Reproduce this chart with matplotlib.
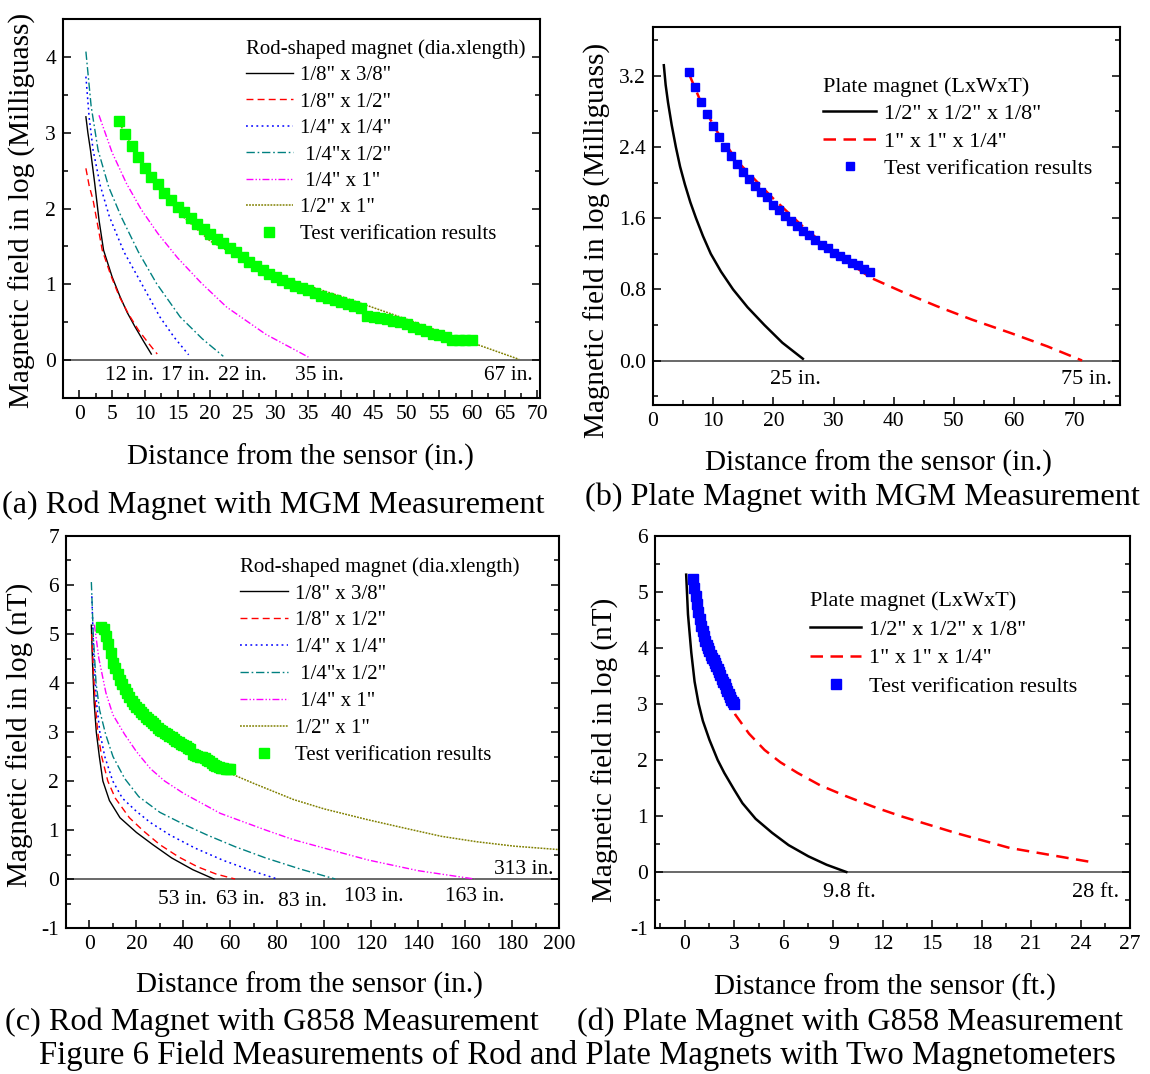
import matplotlib
matplotlib.use('Agg')
import matplotlib.pyplot as plt
from matplotlib.ticker import MultipleLocator, FormatStrFormatter

plt.rcParams['font.family'] = ['Liberation Serif', 'DejaVu Serif']
plt.rcParams['axes.unicode_minus'] = False

# ---------------- data ----------------
# (a) rod magnet, MGM (log milligauss vs inches)
a_black_x = [1.0, 1.3, 1.7, 2.35, 3.0, 3.7, 5.0, 6.2, 7.3, 8.5, 9.8, 11.0]
a_black_y = [3.21, 3.0, 2.77, 2.33, 1.85, 1.45, 1.10, 0.84, 0.63, 0.44, 0.25, 0.08]
a_red_x = [1.0, 1.5, 2.1, 2.8, 3.5, 4.8, 6.1, 7.5, 9.0, 10.5, 11.9]
a_red_y = [2.53, 2.30, 2.11, 1.78, 1.45, 1.12, 0.84, 0.61, 0.40, 0.23, 0.08]
a_blue_x = [1.0, 1.5, 2.1, 3.2, 4.6, 6.8, 9.5, 12.3, 14.5, 16.7]
a_blue_y = [3.74, 3.20, 2.77, 2.30, 1.89, 1.43, 1.01, 0.57, 0.30, 0.07]
a_teal_x = [1.0, 1.8, 2.86, 4.5, 6.4, 9.0, 11.8, 15.4, 18.8, 22.0]
a_teal_y = [4.07, 3.35, 2.77, 2.28, 1.89, 1.43, 1.01, 0.57, 0.28, 0.05]
a_mag_x = [3.0, 5.0, 7.2, 9.5, 12.0, 15.0, 18.6, 22.5, 28.5, 35.0]
a_mag_y = [3.23, 2.74, 2.33, 1.98, 1.67, 1.35, 1.02, 0.70, 0.34, 0.04]
a_olive_x = [6, 8, 10, 13, 16, 20, 25, 30, 35, 40, 45, 50, 55, 60, 67.2]
a_olive_y = [3.15, 2.82, 2.55, 2.17, 1.88, 1.57, 1.33, 1.13, 0.98, 0.84, 0.69, 0.54, 0.38, 0.23, 0.01]
a_test_x = list(range(6, 61))
a_test_y = [3.15, 2.98, 2.82, 2.68, 2.54, 2.42, 2.32, 2.21, 2.11, 2.02,
            1.95, 1.88, 1.80, 1.73, 1.66, 1.60, 1.54, 1.48, 1.42, 1.36,
            1.30, 1.24, 1.19, 1.14, 1.10, 1.06, 1.02, 0.98, 0.95, 0.92,
            0.88, 0.85, 0.82, 0.79, 0.76, 0.74, 0.72, 0.69, 0.58, 0.57,
            0.55, 0.54, 0.52, 0.50, 0.48, 0.44, 0.41, 0.38, 0.34, 0.33,
            0.31, 0.27, 0.27, 0.26, 0.26]

# (b) plate magnet, MGM
b_black_x = [1.8, 2.1, 2.5, 3.1, 3.8, 4.5, 5.3, 6.2, 7.15, 8.3, 9.6, 11.3, 13.3, 15.7, 18.5, 21.5, 24.9]
b_black_y = [3.32, 3.10, 2.90, 2.65, 2.40, 2.18, 1.98, 1.78, 1.60, 1.40, 1.20, 1.00, 0.80, 0.60, 0.40, 0.20, 0.02]
b_red_x = [6, 8, 10.5, 14, 19.7, 25, 30, 36.2, 41.5, 47.2, 53, 59.4, 65.5, 71.3]
b_red_y = [3.22, 2.90, 2.59, 2.24, 1.84, 1.50, 1.22, 0.93, 0.77, 0.61, 0.46, 0.31, 0.16, 0.0]
b_test_x = list(range(6, 37))
b_test_y = [3.24, 3.07, 2.91, 2.77, 2.64, 2.51, 2.40, 2.30, 2.21, 2.12,
            2.04, 1.96, 1.89, 1.84, 1.75, 1.69, 1.63, 1.57, 1.51, 1.46,
            1.41, 1.36, 1.30, 1.26, 1.21, 1.18, 1.14, 1.10, 1.07, 1.03, 0.99]

# (c) rod magnet, G858 (log nT vs inches)
c_black_x = [0.8, 1.3, 2.0, 2.9, 4.2, 5.7, 8.5, 13.0, 20.0, 27.0, 35.0, 44.0, 53.0]
c_black_y = [5.18, 4.40, 3.60, 3.00, 2.50, 2.00, 1.60, 1.25, 0.95, 0.70, 0.43, 0.19, 0.0]
c_red_x = [1.0, 1.7, 2.6, 3.5, 5.2, 7.8, 11.0, 17.0, 23.0, 30.0, 38.0, 46.0, 54.0, 62.0]
c_red_y = [5.00, 4.20, 3.50, 3.00, 2.50, 2.00, 1.65, 1.25, 0.98, 0.70, 0.45, 0.25, 0.10, 0.0]
c_blue_x = [1.0, 1.8, 3.0, 4.4, 6.5, 9.9, 14.0, 20.0, 26.0, 34.2, 45.0, 57.0, 69.0, 80.0]
c_blue_y = [5.77, 4.60, 3.60, 3.00, 2.50, 2.00, 1.65, 1.38, 1.15, 0.90, 0.63, 0.38, 0.17, 0.0]
c_teal_x = [0.8, 1.6, 2.8, 4.3, 6.9, 10.0, 15.0, 21.0, 30.0, 40.0, 50.0, 62.0, 75.0, 90.0, 104.7]
c_teal_y = [6.06, 5.00, 4.00, 3.45, 2.95, 2.50, 2.05, 1.68, 1.36, 1.12, 0.90, 0.66, 0.43, 0.20, 0.0]
c_mag_x = [2.1, 4.0, 7.0, 10.0, 15.0, 20.0, 26.0, 32.0, 40.0, 55.7, 75.0, 87.0, 100.0, 118.5, 140.0, 164.0]
c_mag_y = [5.19, 4.50, 3.80, 3.35, 2.95, 2.60, 2.25, 2.00, 1.75, 1.34, 1.00, 0.80, 0.63, 0.39, 0.17, 0.0]
c_olive_x = [5, 10, 20, 30, 40, 50, 59.7, 70, 87, 100, 118.5, 135, 150, 165, 181, 200]
c_olive_y = [5.10, 4.30, 3.50, 3.05, 2.74, 2.45, 2.16, 1.95, 1.62, 1.43, 1.21, 1.03, 0.87, 0.76, 0.67, 0.60]
c_test_x = list(range(5, 61))
c_test_y = [5.15, 5.10, 4.95, 4.80, 4.62, 4.40, 4.30, 4.18, 4.07, 3.97,
            3.87, 3.79, 3.72, 3.64, 3.58, 3.52, 3.46, 3.41, 3.36, 3.31,
            3.26, 3.22, 3.18, 3.14, 3.09, 3.05, 3.02, 2.98, 2.95, 2.92,
            2.89, 2.86, 2.82, 2.79, 2.76, 2.74, 2.71, 2.68, 2.65, 2.55,
            2.54, 2.52, 2.50, 2.49, 2.46, 2.43, 2.40, 2.37, 2.33, 2.30,
            2.28, 2.27, 2.26, 2.25, 2.25, 2.25]

# (d) plate magnet, G858 (log nT vs feet)
d_black_x = [0.09, 0.2, 0.4, 0.6, 0.84, 1.1, 1.5, 2.0, 2.4, 3.0, 3.5, 4.3, 5.3, 6.3, 7.5, 8.6, 9.8]
d_black_y = [5.31, 4.60, 3.92, 3.40, 3.01, 2.70, 2.36, 2.00, 1.77, 1.47, 1.23, 0.95, 0.70, 0.48, 0.28, 0.13, 0.0]
d_red_x = [0.5, 1.0, 2.0, 3.07, 3.9, 4.84, 5.8, 6.84, 8.2, 9.73, 11.4, 13.07, 16.4, 19.7, 24.8]
d_red_y = [5.20, 4.40, 3.60, 2.81, 2.47, 2.18, 1.96, 1.77, 1.55, 1.36, 1.17, 1.00, 0.70, 0.43, 0.17]
d_test_x = [n / 12 for n in range(6, 37)]
d_test_y = [5.24, 5.08, 4.92, 4.78, 4.64, 4.52, 4.40, 4.30, 4.21, 4.13,
            4.06, 4.00, 3.94, 3.88, 3.83, 3.78, 3.73, 3.68, 3.63, 3.57,
            3.51, 3.45, 3.40, 3.35, 3.29, 3.23, 3.18, 3.13, 3.08, 3.04, 3.00]

rod_labels = ['1/8" x 3/8"', '1/8" x 1/2"', '1/4" x 1/4"', ' 1/4"x 1/2"', ' 1/4" x 1"', '1/2" x 1"',
              'Test verification results']
plate_labels = ['1/2" x 1/2" x 1/8"', '1" x 1" x 1/4"', 'Test verification results']

a_notes = [(7.6, '12 in.'), (16.2, '17 in.'), (24.9, '22 in.'), (36.7, '35 in.'), (65.6, '67 in.')]
b_notes = [(23.7, '25 in.'), (72.0, '75 in.')]
c_notes = [(39.6, -0.42, '53 in.'), (64.4, -0.42, '63 in.'), (90.6, -0.45, '83 in.'),
           (120.9, -0.35, '103 in.'), (164.0, -0.35, '163 in.'), (185.0, 0.19, '313 in.')]
d_notes = [(10.0, '9.8 ft.'), (24.9, '28 ft.')]

# ---------------- figure ----------------
W, H = 1150, 1074
fig = plt.figure(figsize=(W / 100, H / 100), dpi=100)


def make_axes(l, t, r, b):
    return fig.add_axes([l / W, 1 - b / H, (r - l) / W, (b - t) / H])


def style(ax, xlim, ylim, xmaj, xmin, ymaj, ymin, yfmt=None):
    ax.set_xlim(*xlim)
    ax.set_ylim(*ylim)
    ax.xaxis.set_major_locator(MultipleLocator(xmaj))
    ax.xaxis.set_minor_locator(MultipleLocator(xmin))
    ax.yaxis.set_major_locator(MultipleLocator(ymaj))
    ax.yaxis.set_minor_locator(MultipleLocator(ymin))
    if yfmt:
        ax.yaxis.set_major_formatter(FormatStrFormatter(yfmt))
    ax.tick_params(which='both', direction='in', top=False, right=True, width=1.1,
                   labelsize=15.5, pad=5)
    ax.tick_params(which='major', length=6)
    ax.tick_params(which='minor', length=3.5)
    for s in ax.spines.values():
        s.set_linewidth(1.5)
    ax.axhline(0, color='0.25', lw=1.1, zorder=1)


def label(text, xy_px, rot=0, fs=21):
    fig.text(xy_px[0] / W, 1 - xy_px[1] / H, text, rotation=rot, ha='center', va='center', fontsize=fs)


def legend(ax, handles, labels, title, x_px, y_px, fs, hl, spacing):
    return ax.legend(handles, labels, title=title, loc='upper left',
                     bbox_to_anchor=(x_px / W, 1 - y_px / H), bbox_transform=fig.transFigure,
                     frameon=False, fontsize=fs, title_fontsize=fs, borderpad=0, borderaxespad=0,
                     handlelength=hl, handletextpad=0.35, labelspacing=spacing, alignment='left')


rod_styles = [
    dict(color='black', ls='-', lw=1.0),
    dict(color='#ff0000', ls=(0, (5, 3)), lw=1.0),
    dict(color='#0000ff', ls=(0, (1.2, 2.2)), lw=1.1),
    dict(color='#008080', ls=(0, (6, 2, 1.2, 2)), lw=1.0),
    dict(color='#ff00ff', ls=(0, (5, 1.5, 1, 1.5, 1, 1.5)), lw=1.0),
    dict(color='#808000', ls=(0, (1.2, 0.8)), lw=1.1),
]

# ---- (a) ----
ax = make_axes(63, 19, 540, 398)
style(ax, (-2.5, 70.4), (-0.5, 4.5), 5, 2.5, 1, 0.5)
series = [(a_black_x, a_black_y), (a_red_x, a_red_y), (a_blue_x, a_blue_y),
          (a_teal_x, a_teal_y), (a_mag_x, a_mag_y), (a_olive_x, a_olive_y)]
hs = []
for (xs, ys), st in zip(series, rod_styles):
    h, = ax.plot(xs, ys, **st)
    hs.append(h)
hm, = ax.plot(a_test_x, a_test_y, ls='none', marker='s', ms=6.8, color='#00ff00', mec='#00ff00', zorder=3)
hs.append(hm)
for x, t in a_notes:
    ax.text(x, -0.2, t, ha='center', va='center', fontsize=15.5)
legend(ax, hs, rod_labels, 'Rod-shaped magnet (dia.xlength)', 246, 39, 15, 2.25, 0.33)
label('Distance from the sensor (in.)', (300, 457))
label('Magnetic field in log (Milliguass)', (22, 210), rot=90)

# ---- (b) ----
ax = make_axes(653, 27, 1120, 405)
style(ax, (0, 77.6), (-0.5, 3.75), 10, 5, 0.8, 0.4, '%.1f')
h1, = ax.plot(b_black_x, b_black_y, color='black', lw=1.8)
h2, = ax.plot(b_red_x, b_red_y, color='#ff0000', lw=1.8, ls=(0, (5, 3)))
h3, = ax.plot(b_test_x, b_test_y, ls='none', marker='s', ms=6.2, color='#0000ff', mec='#0000ff', zorder=3)
for x, t in b_notes:
    ax.text(x, -0.21, t, ha='center', va='center', fontsize=16)
legend(ax, [h1, h2, h3], plate_labels, 'Plate magnet (LxWxT)', 823, 77, 16, 2.4, 0.31)
label('Distance from the sensor (in.)', (878, 463))
label('Magnetic field in log (Milliguass)', (597, 240), rot=90)

# ---- (c) ----
ax = make_axes(66, 536, 559, 928)
style(ax, (-10, 200), (-1, 7), 20, 10, 1, 0.5)
series = [(c_black_x, c_black_y), (c_red_x, c_red_y), (c_blue_x, c_blue_y),
          (c_teal_x, c_teal_y), (c_mag_x, c_mag_y), (c_olive_x, c_olive_y)]
hs = []
for (xs, ys), st in zip(series, rod_styles):
    h, = ax.plot(xs, ys, **st)
    hs.append(h)
hm, = ax.plot(c_test_x, c_test_y, ls='none', marker='s', ms=6.6, color='#00ff00', mec='#00ff00', zorder=3)
hs.append(hm)
for x, y, t in c_notes:
    ax.text(x, y, t, ha='center', va='center', fontsize=15.5)
legend(ax, hs, rod_labels, 'Rod-shaped magnet (dia.xlength)', 240, 557, 15, 2.3, 0.35)
label('Distance from the sensor (in.)', (309, 985))
label('Magnetic field in log (nT)', (20, 735), rot=90)

# ---- (d) ----
ax = make_axes(655, 536, 1130, 928)
style(ax, (-1.8, 27), (-1, 6), 3, 1.5, 1, 0.5)
h1, = ax.plot(d_black_x, d_black_y, color='black', lw=1.8)
h2, = ax.plot(d_red_x, d_red_y, color='#ff0000', lw=1.8, ls=(0, (5, 3)))
h3, = ax.plot(d_test_x, d_test_y, ls='none', marker='s', ms=6.6, color='#0000ff', mec='#0000ff', zorder=3)
for x, t in d_notes:
    ax.text(x, -0.37, t, ha='center', va='center', fontsize=16)
legend(ax, [h1, h2, h3], plate_labels, 'Plate magnet (LxWxT)', 810, 591, 16, 2.3, 0.37)
label('Distance from the sensor (ft.)', (885, 987))
label('Magnetic field in log (nT)', (605, 750), rot=90)

# ---- captions ----
cap = 23.2
fig.text(273 / W, 1 - 505 / H, '(a) Rod Magnet with MGM Measurement', ha='center', va='center', fontsize=cap)
fig.text(862 / W, 1 - 497 / H, '(b) Plate Magnet with MGM Measurement', ha='center', va='center', fontsize=cap)
fig.text(272 / W, 1 - 1022 / H, '(c) Rod Magnet with G858 Measurement', ha='center', va='center', fontsize=cap)
fig.text(850 / W, 1 - 1022 / H, '(d) Plate Magnet with G858 Measurement', ha='center', va='center', fontsize=cap)
fig.text(577 / W, 1 - 1055 / H, 'Figure 6 Field Measurements of Rod and Plate Magnets with Two Magnetometers',
         ha='center', va='center', fontsize=23.6)

fig.savefig('out.png', dpi=100)
